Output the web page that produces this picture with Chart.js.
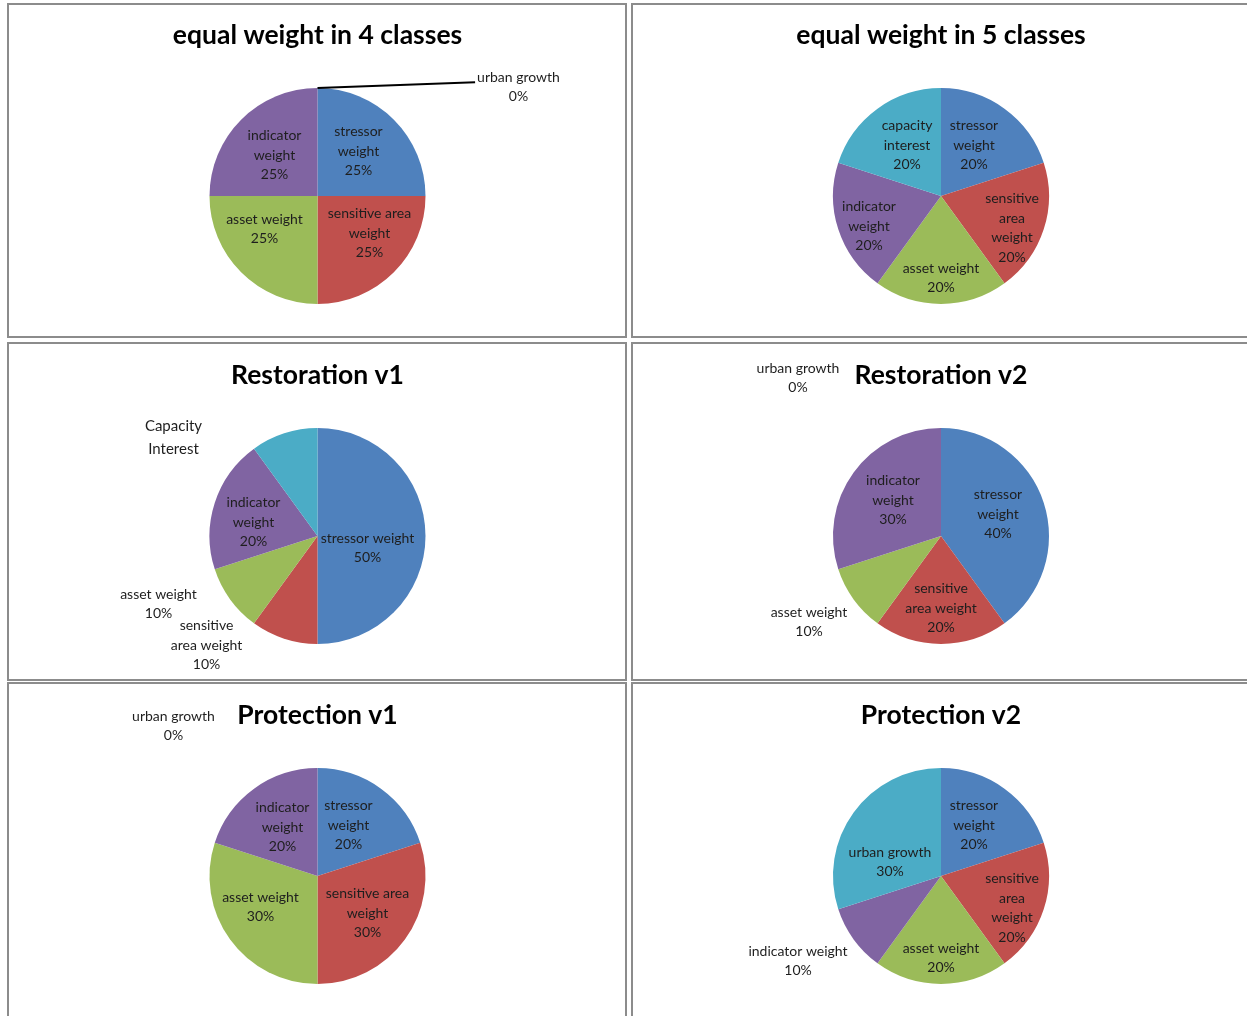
<!DOCTYPE html>
<html>
<head>
<meta charset="utf-8">
<script src="https://cdn.jsdelivr.net/npm/chart.js@4.4.1/dist/chart.umd.min.js"></script>
<style>
  html, body { margin: 0; padding: 0; background: #fff; width: 1247px; height: 1016px; overflow: hidden; }
  .panel { position: absolute; box-sizing: border-box; border: 2px solid #8c8c8c; background: #fff; overflow: hidden; }
  .panel canvas { position: absolute; left: 0; top: 0; }
</style>
</head>
<body>
<script>
// ---- data ----
const titles = ['equal weight in 4 classes', 'equal weight in 5 classes', 'Restoration v1', 'Restoration v2', 'Protection v1', 'Protection v2'];
const baseCategories = ['stressor weight', 'sensitive area weight', 'asset weight', 'indicator weight'];
const fifthCategory = ['urban growth', 'capacity interest', 'Capacity Interest', 'urban growth', 'urban growth', 'urban growth'];
const equal4 = [25, 25, 25, 25, 0];
const equal5 = [20, 20, 20, 20, 20];
const restorationV1 = [50, 10, 10, 20, 10];
const restorationV2 = [40, 20, 10, 30, 0];
const protectionV1 = [20, 30, 30, 20, 0];
const protectionV2 = [20, 20, 20, 10, 30];
const seriesValues = [equal4, equal5, restorationV1, restorationV2, protectionV1, protectionV2];

// ---- styling / layout ----
const sliceColors = ['#4F81BD', '#C0504D', '#9BBB59', '#8064A2', '#4BACC6'];
const LABEL_FONT = 'Lato, "Liberation Sans", sans-serif';
const panelBoxes = [
  { left: 7,   top: 3,   width: 620, height: 335 },
  { left: 631, top: 3,   width: 622, height: 335 },
  { left: 7,   top: 342, width: 620, height: 339 },
  { left: 631, top: 342, width: 622, height: 339 },
  { left: 7,   top: 682, width: 620, height: 340 },
  { left: 631, top: 682, width: 622, height: 340 }
];
const pieCenters = [[317.5, 196], [941, 196], [317.5, 536], [941, 536], [317.5, 876], [941, 876]];
const PIE_RADIUS = 108;
const TITLE_ABOVE_CENTER = 161;

// label placement per panel: offset of the text block from the pie centre, wrap width
const labelLayouts = [
  [ { dx: 41, dy: -45, wrap: 70 }, { dx: 52, dy: 37, wrap: 95 }, { dx: -53, dy: 33, wrap: 100 },
    { dx: -43, dy: -41, wrap: 70 }, { dx: 201, dy: -109, wrap: 110, leader: true } ],
  [ { dx: 33, dy: -51, wrap: 70 }, { dx: 71, dy: 32, wrap: 62 }, { dx: 0, dy: 82, wrap: 100 },
    { dx: -72, dy: 30, wrap: 70 }, { dx: -34, dy: -51, wrap: 70 } ],
  [ { dx: 50, dy: 12, wrap: 120 }, { dx: -111, dy: 109, wrap: 82 }, { dx: -159, dy: 68, wrap: 100 },
    { dx: -64, dy: -14, wrap: 70 }, { dx: -144, dy: -98, wrap: 60, showValue: false, size: 15, lineHeight: 23 } ],
  [ { dx: 57, dy: -22, wrap: 70 }, { dx: 0, dy: 72, wrap: 82 }, { dx: -132, dy: 86, wrap: 100 },
    { dx: -48, dy: -36, wrap: 70 }, { dx: -143, dy: -158, wrap: 110 } ],
  [ { dx: 31, dy: -51, wrap: 70 }, { dx: 50, dy: 37, wrap: 95 }, { dx: -57, dy: 31, wrap: 100 },
    { dx: -35, dy: -49, wrap: 70 }, { dx: -144, dy: -150, wrap: 110 } ],
  [ { dx: 33, dy: -51, wrap: 70 }, { dx: 71, dy: 32, wrap: 62 }, { dx: 0, dy: 82, wrap: 100 },
    { dx: -143, dy: 85, wrap: 130 }, { dx: -51, dy: -14, wrap: 110 } ]
];

function wrapWords(ctx, text, maxWidth) {
  const words = text.split(' ');
  const lines = [];
  let cur = '';
  words.forEach(w => {
    const trial = cur ? cur + ' ' + w : w;
    if (cur && ctx.measureText(trial).width > maxWidth) {
      lines.push(cur);
      cur = w;
    } else {
      cur = trial;
    }
  });
  if (cur) lines.push(cur);
  return lines;
}

// Draws Excel-style data labels: category name, then the percentage on its own line
const sliceLabels = {
  id: 'sliceLabels',
  afterDatasetsDraw(chart, args, opts) {
    const ctx = chart.ctx;
    const meta = chart.getDatasetMeta(0);
    const values = chart.data.datasets[0].data;
    opts.items.forEach((item, i) => {
      const arc = meta.data[i];
      if (!arc) return;
      const size = item.size || 14;
      const lh = item.lineHeight || 19.5;
      ctx.save();
      ctx.font = size + 'px ' + LABEL_FONT;
      const lines = wrapWords(ctx, chart.data.labels[i], item.wrap);
      if (item.showValue !== false) lines.push(values[i] + '%');
      const x = arc.x + item.dx;
      const y0 = arc.y + item.dy - (lines.length - 1) * lh / 2;
      ctx.fillStyle = '#1e1e1e';
      ctx.textAlign = 'center';
      ctx.textBaseline = 'middle';
      lines.forEach((ln, k) => ctx.fillText(ln, x, y0 + k * lh));
      if (item.leader) {
        const w = ctx.measureText(lines[0]).width;
        const sx = arc.x + arc.outerRadius * Math.cos(arc.startAngle);
        const sy = arc.y + arc.outerRadius * Math.sin(arc.startAngle);
        ctx.beginPath();
        ctx.moveTo(sx, sy);
        ctx.lineTo(x - w / 2 - 2, y0 + 5);
        ctx.lineWidth = 2;
        ctx.strokeStyle = '#000';
        ctx.stroke();
      }
      ctx.restore();
    });
  }
};

function buildPanels() {
  panelBoxes.forEach((box, p) => {
    const div = document.createElement('div');
    div.className = 'panel';
    Object.assign(div.style, { left: box.left + 'px', top: box.top + 'px', width: box.width + 'px', height: box.height + 'px' });
    document.body.appendChild(div);
    const W = box.width - 4, H = box.height - 4;
    const canvas = document.createElement('canvas');
    canvas.width = W; canvas.height = H;
    canvas.style.width = W + 'px'; canvas.style.height = H + 'px';
    div.appendChild(canvas);

    const cx = pieCenters[p][0] - box.left - 2;
    const cy = pieCenters[p][1] - box.top - 2;
    // a wide chart area centred on cx: the pie radius is then set by the height,
    // and the title has room to be drawn at its natural width
    const halfWidth = Math.min(cx, W - cx) - 2;
    const titleSize = 26.5, titleLH = titleSize * 1.2;
    const padTop = cy - TITLE_ABOVE_CENTER - titleLH / 2;
    const titleBottomPad = cy - PIE_RADIUS - padTop - titleLH;

    new Chart(canvas, {
      type: 'pie',
      data: {
        labels: baseCategories.concat([fifthCategory[p]]),
        datasets: [{
          data: seriesValues[p],
          backgroundColor: sliceColors,
          borderWidth: 0,
          hoverOffset: 0
        }]
      },
      options: {
        responsive: false,
        animation: false,
        events: [],
        layout: {
          padding: {
            left: cx - halfWidth,
            right: W - cx - halfWidth,
            top: padTop,
            bottom: H - cy - PIE_RADIUS
          }
        },
        plugins: {
          legend: { display: false },
          tooltip: { enabled: false },
          title: {
            display: true,
            text: titles[p],
            color: '#000',
            font: { family: LABEL_FONT, size: titleSize, weight: 'bold', lineHeight: 1.2 },
            padding: { top: 0, bottom: titleBottomPad }
          },
          sliceLabels: { items: labelLayouts[p] }
        }
      },
      plugins: [sliceLabels]
    });
  });
}

// make sure both weights of the face are ready before any canvas text is drawn
Promise.all([
  document.fonts.load('bold 26px Lato'),
  document.fonts.load('14px Lato'),
  document.fonts.load('15px Lato')
]).then(buildPanels, buildPanels);
</script>
</body>
</html>
